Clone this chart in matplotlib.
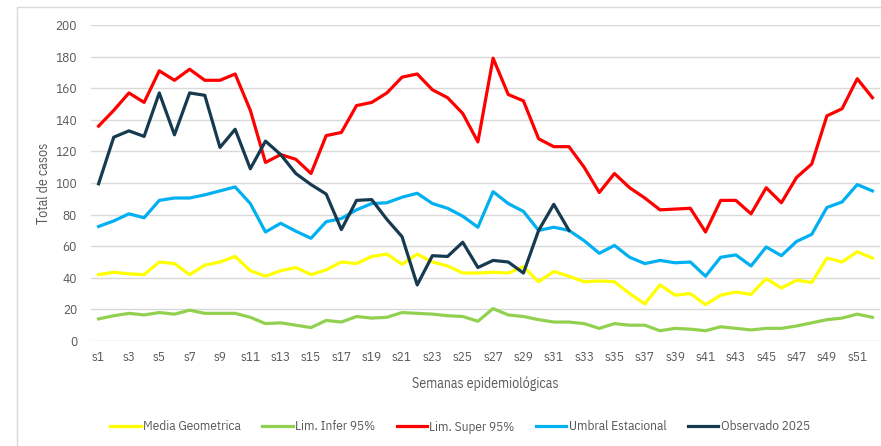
import numpy as np
import matplotlib.pyplot as plt
from matplotlib import font_manager

weeks = ["s%d" % i for i in range(1, 53)]

media_geom = [42, 43.5, 42.5, 42, 50, 49, 42, 48, 50, 53.5, 44.5, 41, 44.5, 46.5, 42, 45,
              50, 49, 53.5, 55, 48.5, 55, 50, 47.5, 43, 43, 43.5, 43, 47, 37.5, 44, 41,
              37.5, 38, 37.5, 30, 23.5, 35.5, 29, 30, 23, 29, 31, 29.5, 39.5, 33.5, 38.5, 37,
              52.5, 50, 56.5, 52.5]
lim_infer = [14, 16, 17.5, 16.5, 18, 17, 19.5, 17.5, 17.5, 17.5, 15, 11, 11.5, 10, 8.5, 13,
             12, 15.5, 14.5, 15, 18, 17.5, 17, 16, 15.5, 12.5, 20.5, 16.5, 15.5, 13.5, 12, 12,
             11, 8, 11, 10, 10, 6.5, 8, 7.5, 6.5, 9, 8, 7, 8, 8, 9.5, 11.5, 13.5, 14.5, 17, 15]
lim_super = [136, 146, 157, 151, 171, 165, 172, 165, 165, 169, 146, 113, 118, 115, 106, 130,
             132, 149, 151, 157, 167, 169, 159, 154, 144, 126, 179, 156, 152, 128, 123, 123,
             110, 94, 106, 97, 90.5, 83, 83.5, 84, 69, 89, 89, 80.5, 97, 87.5, 103.5, 112,
             142.5, 147, 166, 154]
umbral = [72.5, 76, 80.5, 78, 89, 90.5, 90.5, 92.5, 95, 97.5, 87, 69, 74.5, 69.5, 65, 75.5,
          77.5, 83, 87, 87.5, 91, 93.5, 87, 84, 79, 72, 94.5, 87, 82, 70, 72, 70,
          63.5, 55.5, 60.5, 53, 49, 51, 49.5, 50, 41, 53, 54.5, 47.5, 59.5, 54, 63, 67.5,
          84.5, 88, 99, 95]
observado = [99.5, 129, 133, 129.5, 157, 130.5, 157, 155.5, 122.5, 134, 109, 126.5, 118, 106, 99, 93,
             70.5, 89, 89.5, 77, 66, 35.5, 54, 53.5, 62.5, 46.5, 51, 50, 43, 70, 86.5, 70]

fam = "IBM Plex Sans Condensed"
try:
    font_manager.findfont(fam, fallback_to_default=False)
except Exception:
    fam = "Liberation Sans"
plt.rcParams["font.family"] = [fam, "DejaVu Sans"]

txt = "#595959"

fig = plt.figure(figsize=(8.81, 4.46), dpi=100)
ax = fig.add_axes([91 / 881, 1 - 341 / 446, (880 - 91) / 881, (341 - 25) / 446])

x = np.arange(len(weeks))
lw = 2.3
ax.plot(x, media_geom, color="#FFFF00", lw=lw, label="Media Geometrica", zorder=3)
ax.plot(x, lim_infer, color="#92D050", lw=lw, label="Lim. Infer 95%", zorder=3)
ax.plot(x, lim_super, color="#FF0000", lw=lw, label="Lim. Super 95%", zorder=3)
ax.plot(x, umbral, color="#00B0F0", lw=lw, label="Umbral Estacional", zorder=3)
ax.plot(np.arange(len(observado)), observado, color="#163A4F", lw=lw,
        label="Observado 2025", zorder=4)

ax.set_xlim(-0.5, len(weeks) - 0.5)
ax.set_ylim(0, 200)
ax.set_yticks(range(0, 201, 20))
ax.set_xticks(x[::2])
ax.set_xticklabels(weeks[::2])
ax.grid(axis="y", color="#D9D9D9", lw=1)
ax.set_axisbelow(True)
for s in ax.spines.values():
    s.set_visible(False)
ax.tick_params(length=0, colors=txt, labelsize=9.5)
ax.tick_params(axis="x", pad=7)
ax.tick_params(axis="y", pad=10)

ax.set_ylabel("Total de casos", color=txt, fontsize=10, labelpad=3)
ax.set_xlabel("Semanas epidemiológicas", color=txt, fontsize=10, labelpad=9)

fig.legend(loc="center", bbox_to_anchor=(460 / 881, 1 - 427 / 446), ncol=5, frameon=False,
           fontsize=9.5, handlelength=2.3, columnspacing=1.6, handletextpad=0.2,
           labelcolor=txt)

border = plt.Rectangle((17 / 881, -0.1), 1.2, 1 - 7 / 446 + 0.1, transform=fig.transFigure,
                       fill=False, edgecolor="#D9D9D9", lw=1)
fig.patches.append(border)

fig.savefig("out.png", dpi=100)
